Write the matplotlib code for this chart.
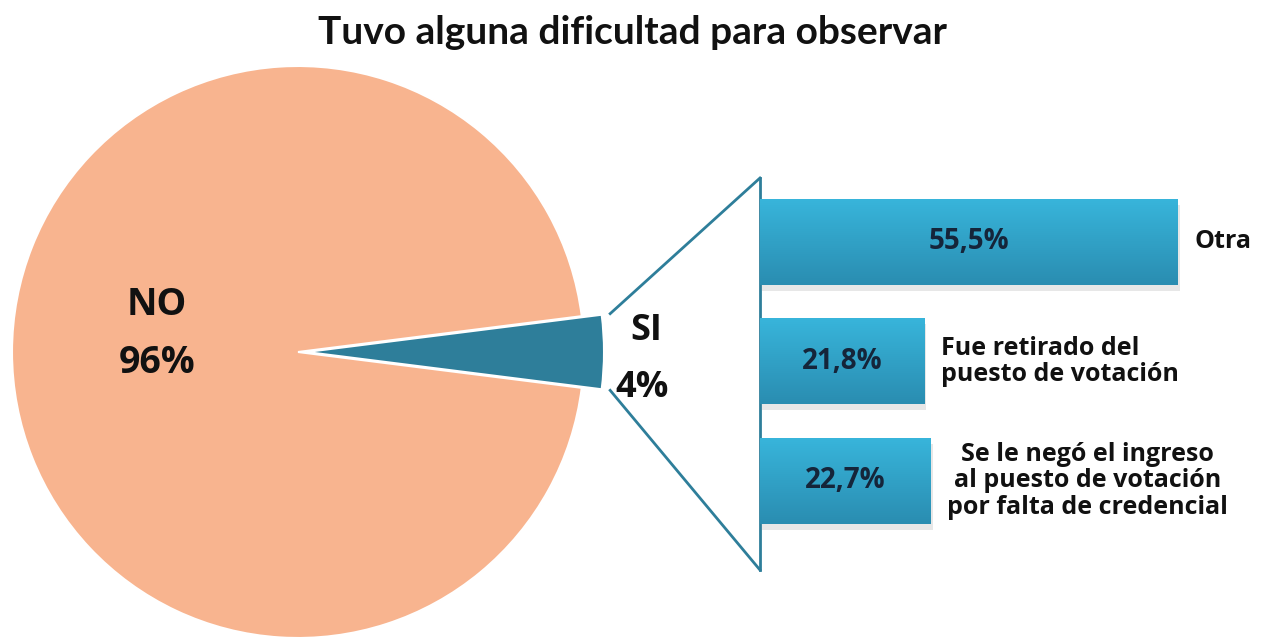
import numpy as np
import matplotlib.pyplot as plt
from matplotlib.colors import LinearSegmentedColormap
from matplotlib.lines import Line2D

plt.rcParams['font.family'] = ['Lato', 'DejaVu Sans']

title = 'Tuvo alguna dificultad para observar'
pie_labels = ['NO', 'SI']
pie_values = [96, 4]
bar_labels = ['Otra', 'Fue retirado del\npuesto de votación',
              'Se le negó el ingreso\nal puesto de votación\npor falta de credencial']
bar_values = [55.5, 21.8, 22.7]

salmon = '#F8B48F'
teal = '#2E7E9A'
W, H = 1265, 638
lab_font = ['Open Sans', 'DejaVu Sans']

fig = plt.figure(figsize=(W / 100, H / 100), dpi=100)
fig.patch.set_facecolor('white')

# pie: centre (298, 352) px, radius 286 px
ax_pie = fig.add_axes([12 / W, 0, 572 / W, 572 / H])
half = 360 * pie_values[1] / 100 / 2
wedges, _ = ax_pie.pie(pie_values, colors=[salmon, teal], startangle=half,
                       explode=[0, 0.03], counterclock=True,
                       wedgeprops=dict(edgecolor='white', linewidth=1.5))
wedges[1].set_radius(1.04)
for w in wedges:
    w.set_clip_on(False)
ax_pie.set_xlim(-1, 1)
ax_pie.set_ylim(-1, 1)
ax_pie.set_aspect('equal')
ax_pie.axis('off')
fig.text(157 / W, 1 - 305 / H, pie_labels[0], ha='center', va='center',
         fontsize=27, fontweight='bold', color='#111111', family=lab_font)
fig.text(157 / W, 1 - 363 / H, f'{pie_values[0]}%', ha='center', va='center',
         fontsize=27, fontweight='bold', color='#111111', family=lab_font)

# bars
ax_bar = fig.add_axes([760 / W, 68 / H, 505 / W, 392 / H])
y = np.arange(len(bar_values))
bars = ax_bar.barh(y, bar_values, height=0.72, color='#30A3CA', zorder=2)
for s in ['top', 'right', 'bottom']:
    ax_bar.spines[s].set_visible(False)
ax_bar.spines['left'].set_color(teal)
ax_bar.spines['left'].set_linewidth(2)
ax_bar.set_xticks([])
ax_bar.set_yticks([])

cmap = LinearSegmentedColormap.from_list('bar', ['#38B5DB', '#2A8DB1'])
grad = np.linspace(0, 1, 100).reshape(-1, 1)
for b, v, lab in zip(bars, bar_values, bar_labels):
    x0, y0, bw, bh = b.get_x(), b.get_y(), b.get_width(), b.get_height()
    # soft shadow
    ax_bar.add_patch(plt.Rectangle((x0 + 0.3, y0 + 0.05), bw, bh,
                                   color='#BBBBBB', alpha=0.35, zorder=1,
                                   linewidth=0))
    im = ax_bar.imshow(grad, cmap=cmap, aspect='auto', zorder=3,
                       extent=[x0, x0 + bw, y0 + bh, y0])
    im.set_clip_path(b)
    ax_bar.text(v / 2, y0 + bh / 2, f'{v:.1f}%'.replace('.', ','),
                ha='center', va='center', fontsize=20, fontweight='bold',
                color='#15253A', zorder=4, family=lab_font)
    ax_bar.text(v + 2.2, y0 + bh / 2, lab, ha='left', va='center',
                multialignment='center' if lab.count('\n') > 1 else 'left',
                fontsize=18, fontweight='bold', color='#111111',
                linespacing=1.1, zorder=4, family=lab_font)
ax_bar.set_xlim(0, 505 / 7.53)
ax_bar.set_ylim(2.745, -0.535)

# connector triangle from SI wedge to bar axis
r = 1.07
th = np.deg2rad(half)
tip = np.array([0.03, 0.0])
p_top = ax_pie.transData.transform(tip + r * np.array([np.cos(th), np.sin(th)]))
p_bot = ax_pie.transData.transform(tip + r * np.array([np.cos(th), -np.sin(th)]))
q_top = ax_bar.transAxes.transform((0, 1))
q_bot = ax_bar.transAxes.transform((0, 0))
inv = fig.transFigure.inverted()
for p, q in [(p_top, q_top), (p_bot, q_bot)]:
    a, c = inv.transform(p), inv.transform(q)
    fig.add_artist(Line2D([a[0], c[0]], [a[1], c[1]], color=teal, lw=2))

fig.text(633 / W, 1 - 32 / H, title, ha='center', va='center', fontsize=28,
         fontweight='bold', color='#111111')
fig.text(646 / W, 1 - 331 / H, pie_labels[1], ha='center', va='center',
         fontsize=26, fontweight='bold', color='#111111', family=lab_font)
fig.text(642 / W, 1 - 388 / H, f'{pie_values[1]}%', ha='center', va='center',
         fontsize=26, fontweight='bold', color='#111111', family=lab_font)

fig.savefig('out.png', dpi=100, facecolor='white')
